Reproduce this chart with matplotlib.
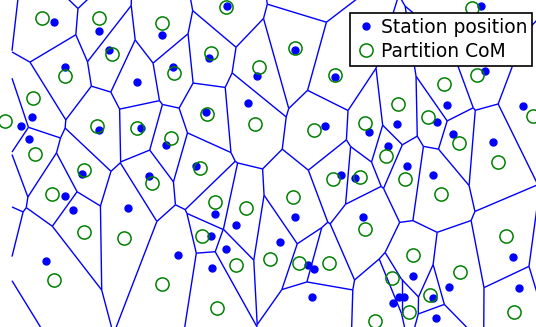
import numpy as np
import matplotlib
matplotlib.use("Agg")
import matplotlib.pyplot as plt
from matplotlib.collections import LineCollection

# station positions (x, y), y grows downward
station_x = [54, 99, 162, 109, 65, 173, 137, 227, 209, 257, 295, 335, 248, 206,
             481, 485, 447, 523, 32, 21, 29, 99, 141, 166, 82, 149, 65, 73, 128,
             325, 196, 341, 355, 215, 295, 369, 397, 437, 453, 493, 388, 407, 433,
             363, 46, 178, 236, 211, 226, 212, 280, 308, 314, 312, 513, 413, 449,
             519, 433, 399, 404, 393, 436]
station_y = [22, 31, 35, 50, 67, 67, 82, 6, 58, 76, 50, 77, 103, 112,
             6, 71, 105, 106, 117, 126, 139, 130, 128, 145, 174, 176, 196, 210, 208,
             126, 166, 175, 178, 214, 217, 132, 124, 122, 134, 142, 146, 166, 175,
             217, 261, 255, 225, 236, 249, 268, 242, 265, 269, 297, 257, 276, 287,
             288, 298, 297, 297, 303, 318]

# stations just outside the shown window (they still shape the border cells)
outer_x = [-21, -5, -15, -2, 75, 304, 546]
outer_y = [1, 170, 224, 333, -31, -22, 268]

# centre of mass of each partition
com_x = [42, 99, 162, 112, 65, 174, 33, 226, 211, 259, 295, 335, 207, 472, 477,
         444, 398, 533, 5, 35, 97, 137, 171, 84, 152, 52, 255, 314, 200, 215,
         246, 293, 333, 360, 365, 428, 459, 498, 386, 405, 441, 84, 124, 54, 162,
         202, 236, 270, 299, 329, 217, 365, 506, 413, 460, 392, 430, 409, 514, 375]
com_y = [18, 18, 23, 54, 76, 73, 98, 7, 53, 67, 48, 75, 114, 8, 75,
         84, 104, 116, 121, 154, 126, 128, 138, 170, 183, 194, 124, 130, 168, 202,
         208, 197, 179, 177, 123, 117, 143, 162, 156, 179, 194, 232, 238, 280, 284,
         236, 265, 259, 263, 263, 308, 229, 236, 255, 272, 278, 295, 312, 312, 321]

W, H = 536, 327
Y_SCALE = 0.64   # y units are shorter than x units
X_MIN = 12       # western edge of the partitioned area


def clip_cell(edges, p, q, j):
    # keep the half-plane closer to p than to q
    m = (p + q) / 2.0
    d = q - p
    kept = []
    for a, b, lab in edges:
        fa = np.dot(a - m, d)
        fb = np.dot(b - m, d)
        if fa <= 0 and fb <= 0:
            kept.append((a, b, lab))
        elif fa <= 0 < fb:
            t = fa / (fa - fb)
            kept.append((a, a + t * (b - a), lab))
        elif fa > 0 >= fb:
            t = fa / (fa - fb)
            kept.append((a + t * (b - a), b, lab))
    out = []
    n = len(kept)
    for k in range(n):
        out.append(kept[k])
        nxt = kept[(k + 1) % n]
        if np.hypot(*(kept[k][1] - nxt[0])) > 1e-9:
            out.append((kept[k][1], nxt[0], j))
    return out


scale = np.array([1.0, Y_SCALE])
all_x = station_x + outer_x
all_y = station_y + outer_y
pts = np.column_stack([all_x, all_y]).astype(float) * scale
corners = [(X_MIN, -400), (W + 400, -400), (W + 400, H + 400), (X_MIN, H + 400)]
box = [np.array(v, float) * scale for v in corners]

segments = []
for i, p in enumerate(pts):
    edges = [(box[k], box[(k + 1) % 4], -1) for k in range(4)]
    for j, q in enumerate(pts):
        if j != i:
            edges = clip_cell(edges, p, q, j)
    for a, b, lab in edges:
        if lab > i:
            segments.append([a / scale, b / scale])

fig = plt.figure(figsize=(W / 100, H / 100), dpi=100)
ax = fig.add_axes([0, 0, 1, 1])

ax.add_collection(LineCollection(segments, colors='b', linewidths=1.0))
ax.plot(station_x, station_y, 'o', color='b', markersize=5, label='Station position', zorder=3)
ax.plot(com_x, com_y, 'o', mfc='none', mec='g', mew=1.1, markersize=9.5, label='Partition CoM', zorder=3)

ax.set_xlim(0, W)
ax.set_ylim(H, 0)
ax.axis('off')

leg = ax.legend(loc='upper right', bbox_to_anchor=(532 / W, 1 - 13 / H), borderaxespad=0,
                numpoints=1, fontsize=13.5, fancybox=False, framealpha=1,
                handlelength=1.2, handletextpad=0.2, borderpad=0.25, labelspacing=0.28)
leg.get_frame().set_edgecolor('black')
leg.get_frame().set_linewidth(1.2)

fig.savefig('out.png', dpi=100)
